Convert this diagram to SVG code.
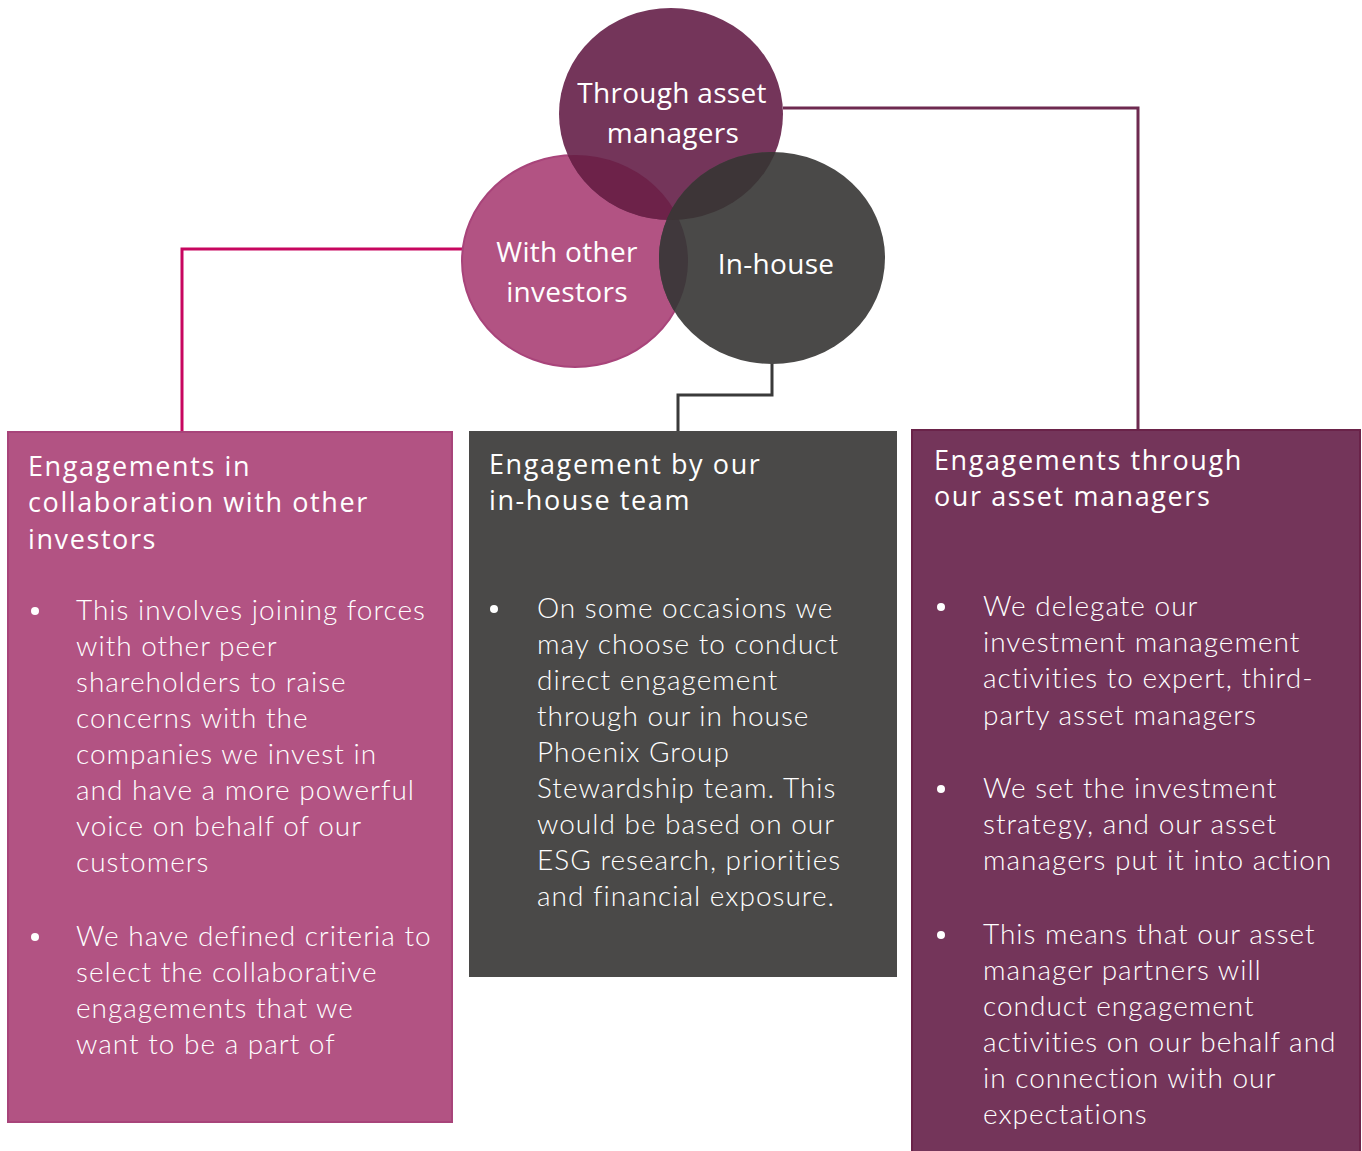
<svg xmlns="http://www.w3.org/2000/svg" width="1362" height="1151" viewBox="0 0 1362 1151">
<style>
.h{font-family:"Open Sans","Liberation Sans",sans-serif;font-size:27px;fill:#fff;letter-spacing:1.6px}
.b{font-family:"Lato","Liberation Sans",sans-serif;font-weight:300;font-size:28px;fill:#fff;letter-spacing:1px}
.c{font-family:"Open Sans","Liberation Sans",sans-serif;font-size:28px;fill:#fff;text-anchor:middle;letter-spacing:0.3px}
.dot{fill:#fff}
</style>
<defs>
<clipPath id="clipL"><ellipse cx="575" cy="261" rx="113" ry="106"/></clipPath>
<clipPath id="clipT"><ellipse cx="671" cy="114" rx="112" ry="106"/></clipPath>
</defs>
<g id="connectors" fill="none" stroke-width="3">
<polyline points="463,249 182,249 182,432" stroke="#c7065f"/>
<polyline points="772,362 772,395 678,395 678,432" stroke="#3a3a3a"/>
<polyline points="783,108 1138,108 1138,431" stroke="#6e2a50"/>
</g>
<g id="circles">
<g id="circle-investors"><ellipse cx="575" cy="261" rx="113" ry="106" fill="#b25383" stroke="#a8447a" stroke-width="2"/></g>
<g id="circle-managers"><ellipse cx="671" cy="114" rx="112" ry="106" fill="#74355a"/></g>
<g id="circle-inhouse"><ellipse cx="772" cy="258" rx="113" ry="106" fill="#4a4948"/></g>
<g clip-path="url(#clipL)"><ellipse cx="671" cy="114" rx="112" ry="106" fill="#6d2249"/><ellipse cx="772" cy="258" rx="113" ry="106" fill="#40383c"/></g>
<g clip-path="url(#clipT)"><ellipse cx="772" cy="258" rx="113" ry="106" fill="#3d3537"/></g>
<text class="c" x="672" y="103">Through asset</text>
<text class="c" x="673" y="143">managers</text>
<text class="c" x="567" y="262">With other</text>
<text class="c" x="567" y="302">investors</text>
<text class="c" x="776" y="274">In-house</text>
</g>
<g id="box-collab">
<rect x="8" y="432" width="444" height="690" fill="#b25383" stroke="#a8447a" stroke-width="2"/>
<text class="h" x="28" y="476">Engagements in</text>
<text class="h" x="28" y="512">collaboration with other</text>
<text class="h" x="28" y="549">investors</text>
<circle class="dot" cx="35" cy="611" r="4"/>
<text class="b" x="76" y="620">This involves joining forces</text>
<text class="b" x="76" y="656">with other peer</text>
<text class="b" x="76" y="692">shareholders to raise</text>
<text class="b" x="76" y="728">concerns with the</text>
<text class="b" x="76" y="764">companies we invest in</text>
<text class="b" x="76" y="800">and have a more powerful</text>
<text class="b" x="76" y="836">voice on behalf of our</text>
<text class="b" x="76" y="872">customers</text>
<circle class="dot" cx="35" cy="937" r="4"/>
<text class="b" x="76" y="946">We have defined criteria to</text>
<text class="b" x="76" y="982">select the collaborative</text>
<text class="b" x="76" y="1018">engagements that we</text>
<text class="b" x="76" y="1054">want to be a part of</text>
</g>
<g id="box-inhouse">
<rect x="469" y="431" width="428" height="546" fill="#4a4948"/>
<text class="h" x="489" y="474">Engagement by our</text>
<text class="h" x="489" y="510">in-house team</text>
<circle class="dot" cx="494" cy="609" r="4"/>
<text class="b" x="537" y="618">On some occasions we</text>
<text class="b" x="537" y="654">may choose to conduct</text>
<text class="b" x="537" y="690">direct engagement</text>
<text class="b" x="537" y="726">through our in house</text>
<text class="b" x="537" y="762">Phoenix Group</text>
<text class="b" x="537" y="798">Stewardship team. This</text>
<text class="b" x="537" y="834">would be based on our</text>
<text class="b" x="537" y="870">ESG research, priorities</text>
<text class="b" x="537" y="906">and financial exposure.</text>
</g>
<g id="box-managers">
<rect x="912" y="430" width="448" height="725" fill="#74355a" stroke="#6a2349" stroke-width="2"/>
<text class="h" x="934" y="470">Engagements through</text>
<text class="h" x="934" y="506">our asset managers</text>
<circle class="dot" cx="941" cy="607" r="4"/>
<text class="b" x="983" y="616">We delegate our</text>
<text class="b" x="983" y="652">investment management</text>
<text class="b" x="983" y="688">activities to expert, third-</text>
<text class="b" x="983" y="725">party asset managers</text>
<circle class="dot" cx="941" cy="789" r="4"/>
<text class="b" x="983" y="798">We set the investment</text>
<text class="b" x="983" y="834">strategy, and our asset</text>
<text class="b" x="983" y="870">managers put it into action</text>
<circle class="dot" cx="941" cy="935" r="4"/>
<text class="b" x="983" y="944">This means that our asset</text>
<text class="b" x="983" y="980">manager partners will</text>
<text class="b" x="983" y="1016">conduct engagement</text>
<text class="b" x="983" y="1052">activities on our behalf and</text>
<text class="b" x="983" y="1088">in connection with our</text>
<text class="b" x="983" y="1124">expectations</text>
</g>
</svg>
